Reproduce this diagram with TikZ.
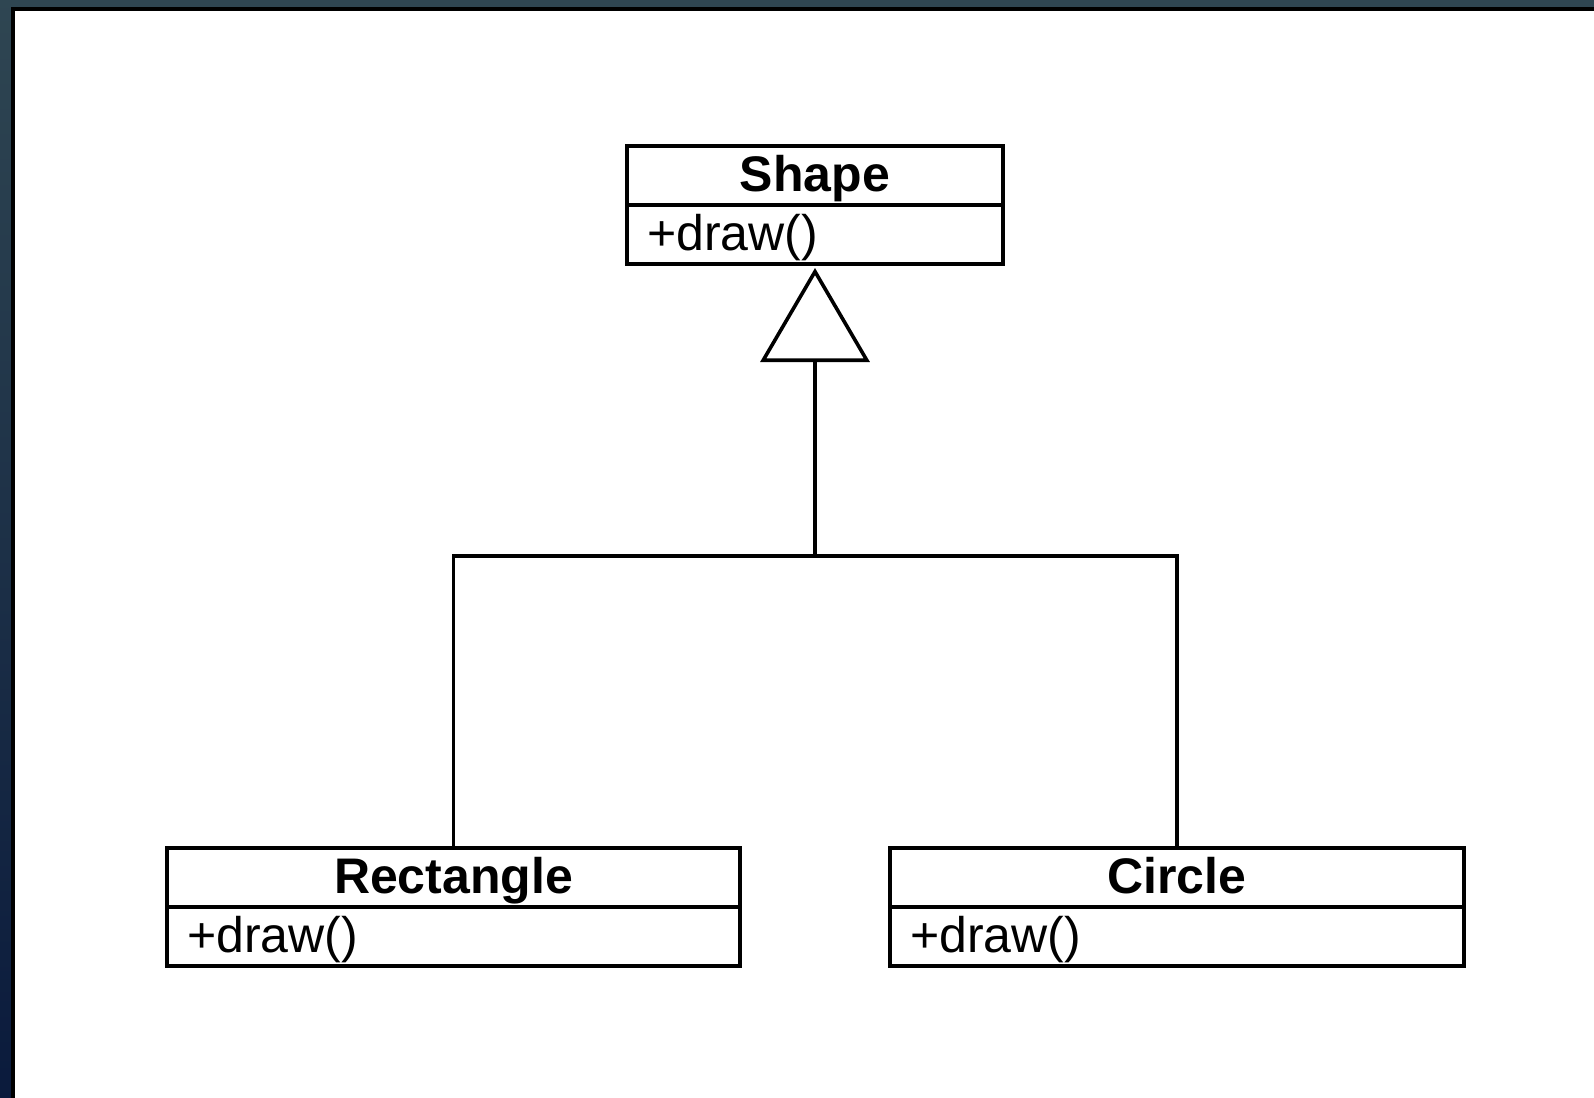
\documentclass[tikz,border=0pt]{standalone}
\usepackage{fontspec}
\setmainfont{Liberation Sans}
\usetikzlibrary{arrows.meta}
\tikzset{
  umlbox/.style={draw=black, line width=3.6pt, fill=white, inner sep=0pt, outer sep=0pt,
    minimum height=59pt, text height=38.5pt, text depth=7.5pt,
    font=\fontsize{50}{60}\selectfont},
  umltitle/.style={umlbox, font=\fontsize{50}{60}\selectfont\bfseries, align=center},
  umlmeth/.style={umlbox, inner xsep=20pt, align=left},
  conn/.style={draw=black, line width=3.6pt},
}
\begin{document}
\begin{tikzpicture}[x=1pt,y=-1pt]
  \useasboundingbox (0,0) rectangle (1594,1097);
  % background frame
  \shade[top color={rgb,255:red,47;green,70;blue,82}, bottom color={rgb,255:red,10;green,26;blue,60}] (-5,-5) rectangle (1600,1105);
  \fill[black] (11,7) rectangle (1600,1105);
  \fill[white] (15,11) rectangle (1600,1105);

  % Shape
  \node[umltitle, minimum width=376pt] (shapeT) at (815,175.5) {Shape};
  \node[umlmeth, text width=336pt] (shapeM) at (815,234.5) {+draw()};
  % Rectangle
  \node[umltitle, minimum width=573pt] (rectT) at (453.5,877.5) {Rectangle};
  \node[umlmeth, text width=533pt] (rectM) at (453.5,936.5) {+draw()};
  % Circle
  \node[umltitle, minimum width=574pt] (circT) at (1177,877.5) {Circle};
  \node[umlmeth, text width=534pt] (circM) at (1177,936.5) {+draw()};

  \coordinate (join) at (815,556);
  \draw[conn] (rectT.north) |- (join) -| (circT.north);
  \draw[conn, shorten >=4pt, -{Triangle[open, length=94pt, width=109pt]}] (join) -- (shapeM.south);
\end{tikzpicture}
\end{document}
